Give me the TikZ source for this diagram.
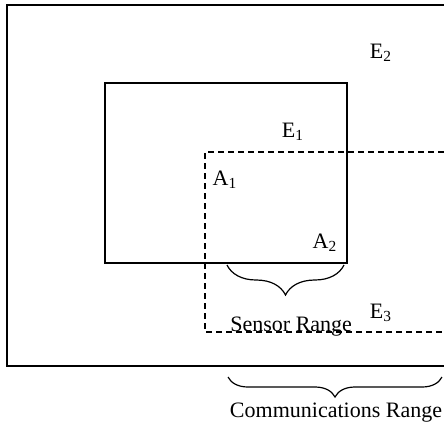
\documentclass[tikz,border=0pt]{standalone}
\usepackage{fontspec}
\setmainfont{Liberation Serif}
\usetikzlibrary{decorations.pathreplacing}
\tikzset{
    lbl/.style={inner sep=0pt, font=\fontsize{11}{13}\selectfont},
    rng/.style={line width=0.75pt, dash pattern=on 3pt off 2pt},
    brc/.style={line width=0.6pt, decorate, decoration={brace, amplitude=#1}}
}
\begin{document}
\begin{tikzpicture}[x=0.5pt, y=-0.5pt]
    \useasboundingbox (0,0) rectangle (444,424);

    % outer region and sensed area
    \draw[line width=0.75pt] (444,5) -- (7,5) -- (7,366) -- (444,366);
    \draw[line width=0.75pt] (105,83) rectangle (347,263);
    \draw[rng] (444,152) -- (205,152) -- (205,332) -- (444,332);

    % ranges
    \coordinate (s1) at (227,265);
    \coordinate (s2) at (344,265);
    \coordinate (c1) at (228,377);
    \coordinate (c2) at (442,377);
    \draw[brc=15pt] (s2) -- (s1);
    \draw[brc=10pt] (c2) -- (c1);

    \node[lbl] (e2) at (381,53) {E\textsubscript{2}};
    \node[lbl] (e1) at (293,132) {E\textsubscript{1}};
    \node[lbl] (a1) at (225,180) {A\textsubscript{1}};
    \node[lbl] (a2) at (325,243) {A\textsubscript{2}};
    \node[lbl] (e3) at (381,313) {E\textsubscript{3}};
    \node[lbl, anchor=base west] (sensor) at (230,331) {Sensor Range};
    \node[lbl] (comm) at (336,413) {Communications Range};
\end{tikzpicture}
\end{document}
